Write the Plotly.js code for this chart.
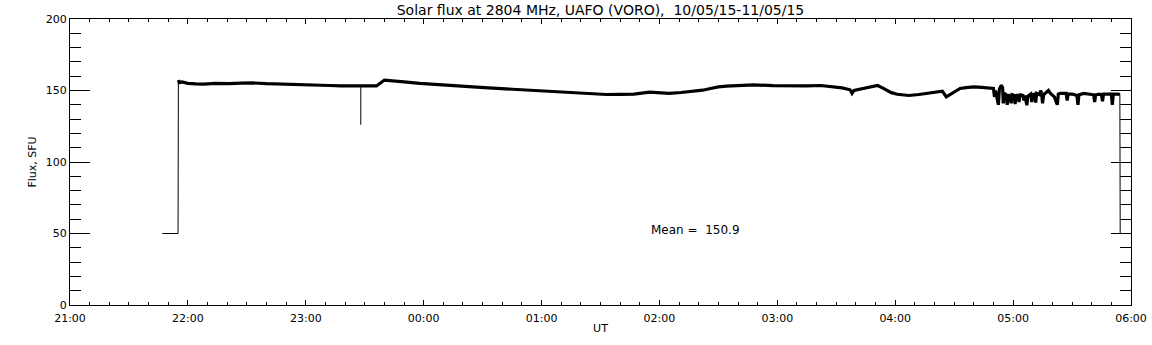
<!DOCTYPE html>
<html>
<head>
<meta charset="utf-8">
<script src="https://cdn.plot.ly/plotly-3.0.1.min.js"></script>
<style>html,body{margin:0;padding:0;background:#fff;}#chart{width:1152px;height:345px;}</style>
</head>
<body>
<div id="chart"></div>
<script>
// ---- data (UT times, flux in SFU) ----
var times = [
  "21:55:10","21:55:40","21:57","22:00","22:04","22:08","22:14","22:21","22:27","22:33",
  "22:40","22:47","22:53","22:59","23:05","23:12","23:18","23:24","23:28","23:33",
  "23:36","23:40","23:44","23:50","23:58","00:07","00:15","00:25","00:33","00:42",
  "00:54","01:01","01:08","01:16","01:25","01:33","01:40","01:47","01:55","02:00",
  "02:05","02:11","02:17","02:22","02:26","02:30","02:34","02:41","02:48","02:58",
  "03:08","03:15","03:22","03:28","03:33","03:37","03:38","03:39","03:44","03:51",
  "03:54","03:58","04:01","04:07","04:12","04:16","04:20","04:23","04:24","04:26",
  "04:29","04:33","04:36","04:40","04:44","04:48","04:50:00","04:50:30","04:51:00","04:52:30",
  "04:53:00","04:54:00","04:54:40","04:55:00","04:55:30","04:56:30","04:57:00","04:57:30","04:58:30","04:59:00",
  "04:59:30","05:00:30","05:01:00","05:01:30","05:02:30","05:03:00","05:03:30","05:04:00","05:05:00","05:05:30",
  "05:06:00","05:07:00","05:07:30","05:09:00","05:09:30","05:10:00","05:11:00","05:11:30","05:12:00","05:13:30",
  "05:14:00","05:14:30","05:15:00","05:15:30","05:17:00","05:18:00","05:19:00","05:20:00","05:21:00","05:22:30",
  "05:23:00","05:24:00","05:26:00","05:27:00","05:27:30","05:28:00","05:30:00","05:31:00","05:32:30","05:33:00",
  "05:33:30","05:36:00","05:38:00","05:40:00","05:41:00","05:41:30","05:42:00","05:44:00","05:45:00","05:45:30",
  "05:46:00","05:48:00","05:50:00","05:50:30","05:51:00","05:53:30","05:54:20"
];
var flux = [
  157.2,155.5,156,155,154.6,154.5,155,154.8,155.2,155.3,
  154.8,154.4,154.2,153.8,153.7,153.5,153.3,153.4,153.3,153.0,
  153.2,157.3,157,156,155,154,153.3,152.5,151.8,151.1,
  150.2,149.3,148.6,148.2,147.8,147.2,147.3,147.5,148.8,148.6,
  148.0,148.6,149.3,150.2,151.4,152.5,153,153.6,153.9,153.4,
  153,153.2,153.5,152.8,151.8,150.5,148,150,151.5,153.5,
  151.5,148.5,147.4,146.5,147.2,147.9,148.7,149.5,149.5,145.5,
  147.9,151.4,152,152.5,152.2,151.6,151.5,145.5,150,140,
  151,153.7,152,141,148,147,140,147,146,141,
  147,146.5,140.5,147,146,142,147,147,146.5,143,
  146.5,139.7,146,147.5,142,147,147.5,141.5,148,147,
  150,148,141,147,148.5,150,148,147,145.5,140,
  147.5,148,148,148,143,147.5,147.5,147,146.5,140,
  147,148,147.5,147.5,147,142,147,147.5,147,142.5,
  147.5,147.5,147.5,140,147.5,147.5,147
];
// baseline (no-signal) level before and after the record, with the joins
var edgeTimes = ["21:47","21:55","21:55:10", null, "05:54:20","05:54:30","05:59:30"];
var edgeFlux  = [50, 50, 157.2, null, 147, 50, 50];
// single sharp dip
var dipTimes = ["23:28","23:28"];
var dipFlux  = [153.3, 126];

var meanLabel = "Mean = &nbsp;150.9";
var meanTime = "02:18:30", meanFlux = 52.8;
var titleText = "Solar flux at 2804 MHz, UAFO (VORO), &nbsp;10/05/15-11/05/15";

function toDate(t){
  if (t === null) return null;
  var h = parseInt(t.split(":")[0], 10);
  var parts = t.split(":");
  var full = parts.length === 2 ? t + ":00" : t;
  return (h >= 21 ? "2015-05-10 " : "2015-05-11 ") + full;
}

var FONT = "DejaVu Sans";
var traces = [
  {x: edgeTimes.map(toDate), y: edgeFlux, mode: "lines", line: {color: "#000", width: 1}, hoverinfo: "skip", connectgaps: false},
  {x: dipTimes.map(toDate), y: dipFlux, mode: "lines", line: {color: "#000", width: 1}, hoverinfo: "skip"},
  {x: times.map(toDate), y: flux, mode: "lines", line: {color: "#000", width: 3.2}, hoverinfo: "skip"}
];

var layout = {
  width: 1152, height: 345,
  margin: {l: 70, r: 21, t: 19, b: 40, pad: 0},
  paper_bgcolor: "#fff", plot_bgcolor: "#fff",
  showlegend: false,
  font: {family: FONT, size: 11, color: "#000"},
  title: {text: titleText, font: {family: FONT, size: 14, color: "#000"},
          x: 0.5, xref: "paper", y: 0.971, yref: "container", yanchor: "middle"},
  xaxis: {
    type: "date",
    range: [toDate("21:00"), toDate("06:00")],
    dtick: 3600000, tick0: toDate("21:00"), tickformat: "%H:%M",
    ticks: "inside", ticklen: 5, tickwidth: 1, tickcolor: "#000",
    minor: {dtick: 600000, ticks: "inside", ticklen: 3, tickwidth: 1, tickcolor: "#000", showgrid: false},
    showline: true, linecolor: "#000", linewidth: 1, mirror: "allticks",
    showgrid: false, zeroline: false,
    ticklabelstandoff: 3,
    tickfont: {family: FONT, size: 11, color: "#000"},
    title: {text: "UT", font: {family: FONT, size: 11, color: "#000"}, standoff: 0},
    automargin: false
  },
  yaxis: {
    range: [0, 200], dtick: 50, tick0: 0,
    ticks: "inside", ticklen: 20, tickwidth: 1, tickcolor: "#000",
    minor: {dtick: 10, ticks: "inside", ticklen: 11, tickwidth: 1, tickcolor: "#000", showgrid: false},
    showline: true, linecolor: "#000", linewidth: 1, mirror: "allticks",
    showgrid: false, zeroline: false,
    tickfont: {family: FONT, size: 11, color: "#000"},
    title: {text: "Flux, SFU", font: {family: FONT, size: 11, color: "#000"}, standoff: 6},
    automargin: false
  },
  annotations: [{
    x: toDate(meanTime), y: meanFlux, xref: "x", yref: "y",
    text: meanLabel, showarrow: false, xanchor: "center", yanchor: "middle",
    font: {family: FONT, size: 12, color: "#000"}
  }]
};

Plotly.newPlot("chart", traces, layout, {staticPlot: true, displayModeBar: false});
</script>
</body>
</html>
